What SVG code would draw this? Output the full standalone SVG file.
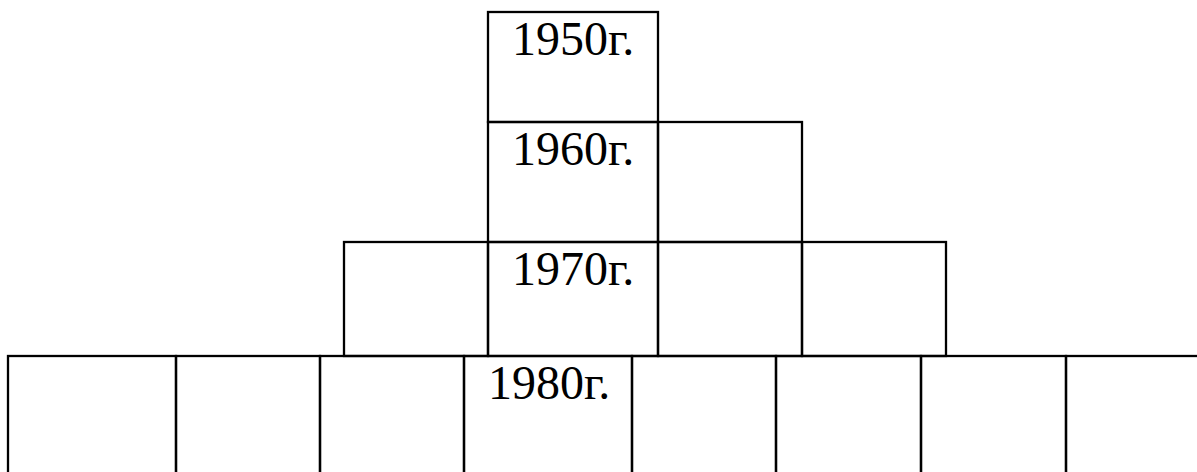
<svg xmlns="http://www.w3.org/2000/svg" width="1197" height="472" viewBox="0 0 1197 472">
<style>
.c{fill:none;stroke:#000;stroke-width:2.3}
.t{font-family:"Liberation Serif","Times New Roman",serif;font-size:48px;fill:#000}
</style>
<rect width="1197" height="472" fill="#fff"/>
<g id="r1950"><rect class="c" x="488" y="12" width="170" height="110"/><text class="t" x="512" y="55">1950г.</text></g>
<g id="r1960a"><rect class="c" x="488" y="122" width="170" height="120"/><text class="t" x="512" y="165">1960г.</text></g>
<g id="r1960b"><rect class="c" x="658" y="122" width="144" height="120"/></g>
<g id="r1970a"><rect class="c" x="344" y="242" width="144" height="114"/></g>
<g id="r1970b"><rect class="c" x="488" y="242" width="170" height="114"/><text class="t" x="512" y="285">1970г.</text></g>
<g id="r1970c"><rect class="c" x="658" y="242" width="144" height="114"/></g>
<g id="r1970d"><rect class="c" x="802" y="242" width="144" height="114"/></g>
<g id="r1980a"><rect class="c" x="8" y="356" width="168" height="130"/></g>
<g id="r1980b"><rect class="c" x="176" y="356" width="144" height="130"/></g>
<g id="r1980c"><rect class="c" x="320" y="356" width="144" height="130"/></g>
<g id="r1980d"><rect class="c" x="464" y="356" width="168" height="130"/><text class="t" x="488" y="399">1980г.</text></g>
<g id="r1980e"><rect class="c" x="632" y="356" width="144" height="130"/></g>
<g id="r1980f"><rect class="c" x="776" y="356" width="145" height="130"/></g>
<g id="r1980g"><rect class="c" x="921" y="356" width="145" height="130"/></g>
<g id="r1980h"><rect class="c" x="1066" y="356" width="150" height="130"/></g>
<g id="connectors"></g>
</svg>
